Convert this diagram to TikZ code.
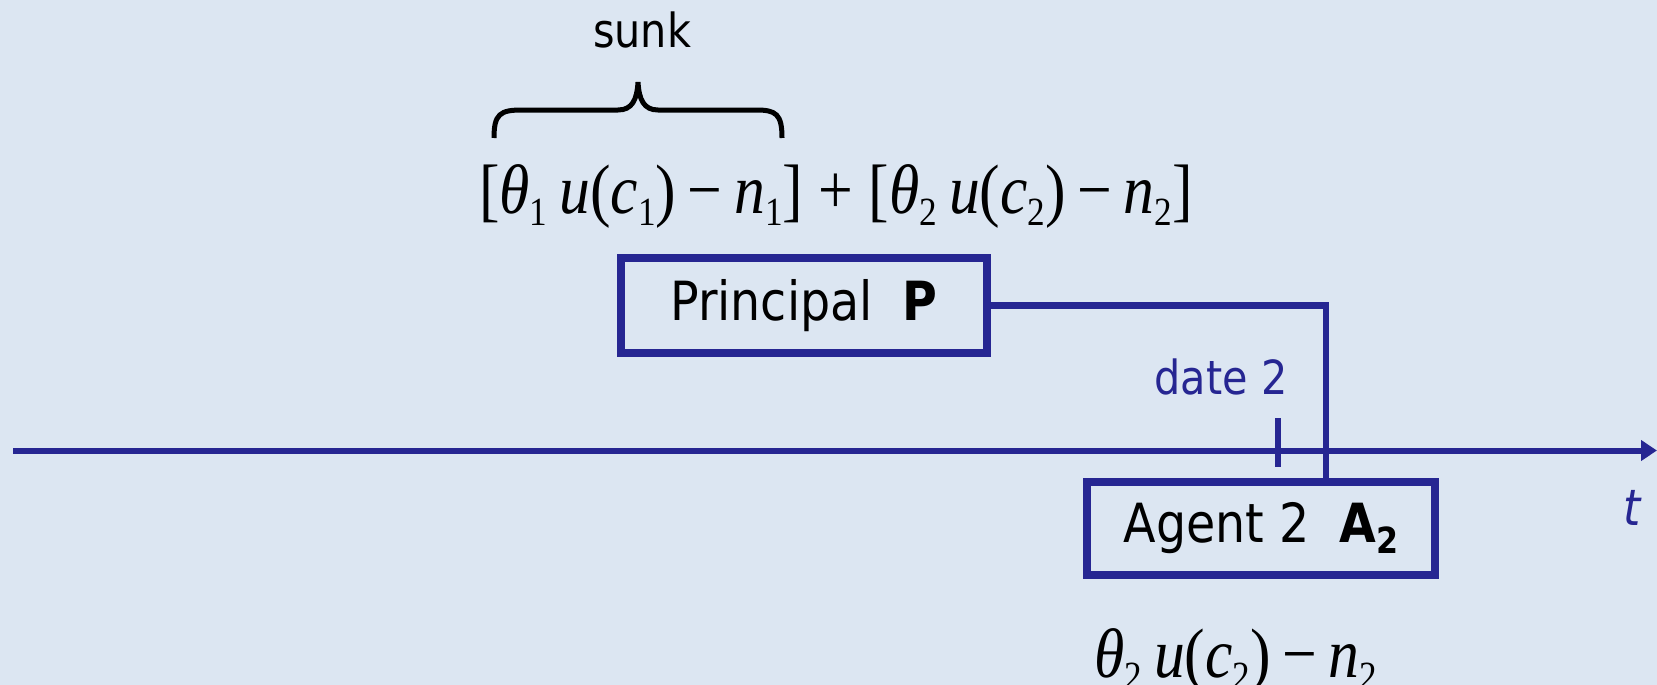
\documentclass[tikz,border=0pt]{standalone}
\usepackage{fontspec}
\setmainfont{DejaVu Sans}[FakeStretch=0.88]
\newfontfamily\eqfont{Liberation Serif}[FakeStretch=0.88]
\usetikzlibrary{arrows.meta}
\definecolor{bgc}{RGB}{220,230,242}
\definecolor{navy}{RGB}{38,38,146}
\newcommand\eqsub[1]{\raisebox{-0.18em}{\fontsize{40}{40}\selectfont #1}}
\newcommand\eqv[1]{\textit{#1}}
\newcommand\eqgap{\hspace*{12pt}}
\begin{document}
\begin{tikzpicture}[x=1pt,y=-1pt,
  box/.style={draw=navy,line width=8pt,inner sep=0pt,align=center,font=\fontsize{54}{54}\selectfont},
  lab/.style={inner sep=0pt,font=\fontsize{47}{47}\selectfont},
  eq/.style={inner sep=0pt,font=\eqfont\fontsize{70}{70}\selectfont},
  navyline/.style={draw=navy,line width=6.5pt}]
\fill[bgc] (0,0) rectangle (1657,685);
\useasboundingbox (0,0) rectangle (1657,685);
% title
\node[lab] (sunk) at (642,30) {sunk};
\draw[line width=5pt] (494,138) .. controls (494,114) and (500,110) .. (522,110) -- (618,110) .. controls (632,110) and (637,100) .. (638,82) .. controls (639,100) and (644,110) .. (658,110) -- (756,110) .. controls (776,110) and (782,114) .. (782,138);
\node[eq,anchor=base] (top) at (836,213) {[\eqv{θ}\eqsub{1}\eqgap\eqv{u}(\eqv{c}\eqsub{1})\,−\,\eqv{n}\eqsub{1}] + [\eqv{θ}\eqsub{2}\eqgap\eqv{u}(\eqv{c}\eqsub{2})\,−\,\eqv{n}\eqsub{2}]};
% boxes
\node[box,minimum width=366pt,minimum height=95pt] (P) at (804,305.5) {Principal\ \ \textbf{P}};
\node[box,minimum width=348pt,minimum height=93pt] (A) at (1261,528.5) {Agent 2\ \ \textbf{A}\raisebox{-0.2em}{\fontsize{36}{36}\selectfont\textbf{2}}};
% axis
\coordinate (ax0) at (13,450.5);
\coordinate (ax1) at (1657,450.5);
\draw[draw=navy,line width=6pt,-{Triangle[length=16pt,width=20pt]}] (ax0) -- (ax1);
\coordinate (t1) at (1278,418);
\coordinate (t2) at (1278,467);
\draw[draw=navy,line width=6.5pt] (t1) -- (t2);
\node[lab,text=navy] (d2) at (1221,377) {date 2};
\node[lab,text=navy,font=\fontsize{50}{50}\selectfont\itshape] (t) at (1632,508) {t};
% connector
\coordinate (k) at (1326,305.5);
\draw[navyline] (P.east) -- (k) -- (k |- A.north);
% bottom
\node[eq,anchor=base west] (bot) at (1094,677) {\eqv{θ}\eqsub{2}\eqgap\eqv{u}(\eqv{c}\eqsub{2})\,−\,\eqv{n}\eqsub{2}};
\end{tikzpicture}
\end{document}
